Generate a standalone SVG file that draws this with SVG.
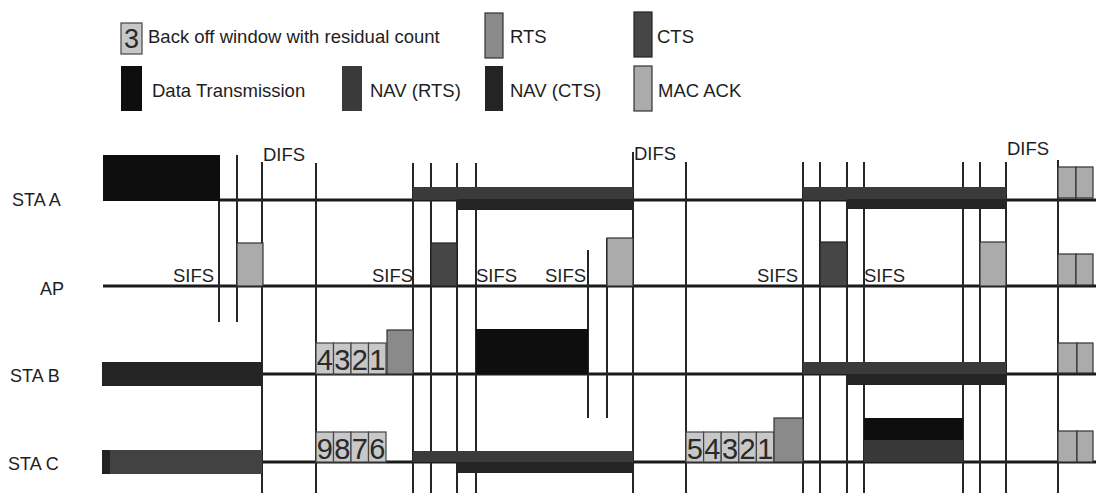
<svg xmlns="http://www.w3.org/2000/svg" width="1096" height="493" viewBox="0 0 1096 493">
<style>
.t{font-family:"Liberation Sans",Arial,sans-serif;font-size:18.5px;fill:#1e1e1e}
.lbl{font-family:"Liberation Sans",Arial,sans-serif;font-size:18px;fill:#1e1e1e}
.dg{font-family:"Liberation Sans",Arial,sans-serif;font-size:29px;fill:#2a2a2a;text-anchor:middle}
.tl{stroke:#1a1a1a;stroke-width:3;fill:none}
.vl{stroke:#262626;stroke-width:2;fill:none}
.data{fill:#0e0e0e}
.rts{fill:#8a8a8a;stroke:#333;stroke-width:1.2}
.cts{fill:#464646;stroke:#222;stroke-width:1.2}
.navr{fill:#3a3a3a}
.navc{fill:#242424}
.ack{fill:#ababab;stroke:#333;stroke-width:1.2}
.bo{fill:#c8c8c8;stroke:#444;stroke-width:1.2}
</style>
<rect width="1096" height="493" fill="#ffffff"/>

<g id="legend">
  <rect class="bo" x="121" y="23" width="21" height="31"/>
  <text class="dg" x="131.5" y="48" style="font-size:27px">3</text>
  <text class="t" x="148" y="43">Back off window with residual count</text>
  <rect class="rts" x="485" y="13" width="18" height="45"/>
  <text class="t" x="510" y="43">RTS</text>
  <rect class="cts" x="634" y="12" width="18" height="45"/>
  <text class="t" x="657" y="43">CTS</text>
  <rect class="data" x="121" y="66" width="21" height="45"/>
  <text class="t" x="152" y="97">Data Transmission</text>
  <rect class="navr" x="342" y="66" width="20" height="45"/>
  <text class="t" x="370" y="97">NAV (RTS)</text>
  <rect class="navc" x="485" y="66" width="18" height="45"/>
  <text class="t" x="510" y="97">NAV (CTS)</text>
  <rect class="ack" x="634" y="66" width="18" height="45"/>
  <text class="t" x="658" y="97">MAC ACK</text>
</g>

<g id="connectors">
  <line class="tl" x1="220" y1="200" x2="1096" y2="200"/>
  <line class="tl" x1="103" y1="286" x2="1096" y2="286"/>
  <line class="tl" x1="262" y1="374" x2="1096" y2="374"/>
  <line class="tl" x1="262" y1="462" x2="1096" y2="462"/>
  <line class="vl" x1="219" y1="200" x2="219" y2="322"/>
  <line class="vl" x1="237" y1="155" x2="237" y2="322"/>
  <line class="vl" x1="262" y1="162" x2="262" y2="493"/>
  <line class="vl" x1="316" y1="163" x2="316" y2="493"/>
  <line class="vl" x1="413" y1="163" x2="413" y2="493"/>
  <line class="vl" x1="431" y1="163" x2="431" y2="493"/>
  <line class="vl" x1="457" y1="163" x2="457" y2="493"/>
  <line class="vl" x1="476" y1="163" x2="476" y2="493"/>
  <line class="vl" x1="588" y1="250" x2="588" y2="418"/>
  <line class="vl" x1="607" y1="238" x2="607" y2="418"/>
  <line class="vl" x1="633" y1="152" x2="633" y2="493"/>
  <line class="vl" x1="686" y1="162" x2="686" y2="493"/>
  <line class="vl" x1="803" y1="162" x2="803" y2="493"/>
  <line class="vl" x1="820" y1="162" x2="820" y2="493"/>
  <line class="vl" x1="847" y1="162" x2="847" y2="493"/>
  <line class="vl" x1="864" y1="162" x2="864" y2="493"/>
  <line class="vl" x1="963" y1="162" x2="963" y2="493"/>
  <line class="vl" x1="980" y1="162" x2="980" y2="493"/>
  <line class="vl" x1="1006" y1="162" x2="1006" y2="493"/>
  <line class="vl" x1="1058" y1="160" x2="1058" y2="493"/>
</g>

<g id="interval-labels">
  <text class="t" x="263" y="161">DIFS</text>
  <text class="t" x="634" y="160">DIFS</text>
  <text class="t" x="1007" y="155">DIFS</text>
  <text class="t" x="173" y="282">SIFS</text>
  <text class="t" x="372" y="282">SIFS</text>
  <text class="t" x="476" y="282">SIFS</text>
  <text class="t" x="545" y="282">SIFS</text>
  <text class="t" x="757" y="282">SIFS</text>
  <text class="t" x="864" y="282">SIFS</text>
</g>

<g id="sta-a">
  <text class="lbl" x="12" y="206">STA A</text>
  <rect class="data" x="103" y="155" width="117" height="46"/>
  <rect class="navr" x="413" y="187" width="220" height="13"/>
  <rect class="navc" x="457" y="199" width="176" height="11"/>
  <rect class="navr" x="803" y="187" width="203" height="13"/>
  <rect class="navc" x="847" y="199" width="159" height="10"/>
  <rect class="ack" x="1058" y="167" width="18" height="31"/>
  <rect class="ack" x="1076" y="167" width="17" height="31"/>
</g>

<g id="ap">
  <text class="lbl" x="40" y="295">AP</text>
  <rect class="ack" x="237" y="243" width="26" height="43"/>
  <rect class="cts" x="431" y="243" width="26" height="43"/>
  <rect class="ack" x="607" y="238" width="26" height="48"/>
  <rect class="cts" x="820" y="242" width="27" height="44"/>
  <rect class="ack" x="980" y="242" width="26" height="44"/>
  <rect class="ack" x="1058" y="254" width="18" height="31"/>
  <rect class="ack" x="1076" y="254" width="17" height="31"/>
</g>

<g id="sta-b">
  <text class="lbl" x="10" y="382">STA B</text>
  <rect class="navc" x="102" y="362" width="160" height="24"/>
  <rect class="bo" x="316" y="343" width="17.5" height="31"/>
  <rect class="bo" x="333.5" y="343" width="17.5" height="31"/>
  <rect class="bo" x="351" y="343" width="17.5" height="31"/>
  <rect class="bo" x="368.5" y="343" width="17.5" height="31"/>
  <text class="dg" x="324.75" y="370">4</text>
  <text class="dg" x="342.25" y="370">3</text>
  <text class="dg" x="359.75" y="370">2</text>
  <text class="dg" x="377.25" y="370">1</text>
  <rect class="rts" x="387" y="330" width="26" height="44"/>
  <rect class="data" x="476" y="329" width="112" height="45"/>
  <rect class="navr" x="803" y="362" width="203" height="12"/>
  <rect class="navc" x="847" y="374" width="159" height="11"/>
  <rect class="ack" x="1058" y="343" width="19" height="30"/>
  <rect class="ack" x="1077" y="343" width="16" height="30"/>
</g>

<g id="sta-c">
  <text class="lbl" x="8" y="470">STA C</text>
  <rect x="102" y="450" width="160" height="24" fill="#424242"/>
  <rect x="102" y="450" width="8" height="24" fill="#222"/>
  <rect class="bo" x="316" y="432" width="17.5" height="30"/>
  <rect class="bo" x="333.5" y="432" width="17.5" height="30"/>
  <rect class="bo" x="351" y="432" width="17.5" height="30"/>
  <rect class="bo" x="368.5" y="432" width="17.5" height="30"/>
  <text class="dg" x="324.75" y="459">9</text>
  <text class="dg" x="342.25" y="459">8</text>
  <text class="dg" x="359.75" y="459">7</text>
  <text class="dg" x="377.25" y="459">6</text>
  <rect class="navr" x="413" y="451" width="220" height="11"/>
  <rect class="navc" x="457" y="462" width="176" height="11"/>
  <rect class="bo" x="686" y="432" width="17.6" height="30"/>
  <rect class="bo" x="703.6" y="432" width="17.6" height="30"/>
  <rect class="bo" x="721.2" y="432" width="17.6" height="30"/>
  <rect class="bo" x="738.8" y="432" width="17.6" height="30"/>
  <rect class="bo" x="756.4" y="432" width="17.6" height="30"/>
  <text class="dg" x="694.8" y="459">5</text>
  <text class="dg" x="712.4" y="459">4</text>
  <text class="dg" x="730" y="459">3</text>
  <text class="dg" x="747.6" y="459">2</text>
  <text class="dg" x="765.2" y="459">1</text>
  <rect class="rts" x="774" y="418" width="29" height="44"/>
  <rect class="data" x="864" y="418" width="99" height="22"/>
  <rect x="864" y="440" width="99" height="22" fill="#383838"/>
  <rect class="ack" x="1058" y="431" width="19" height="31"/>
  <rect class="ack" x="1077" y="431" width="16" height="31"/>
</g>
</svg>
